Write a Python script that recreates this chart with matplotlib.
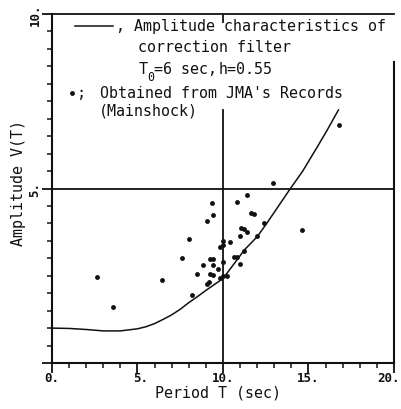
import matplotlib
matplotlib.use("Agg")
import matplotlib.pyplot as plt
from matplotlib.lines import Line2D
from matplotlib.transforms import ScaledTranslation
from matplotlib.ticker import MultipleLocator, FixedLocator, FixedFormatter

plt.rcParams['font.family'] = ['DejaVu Sans Mono', 'DejaVu Sans']

# ---- data ----
curve_T = [0, 1, 2, 3, 4, 5, 5.5, 6, 6.5, 7, 7.5, 8, 8.5, 9, 9.5, 10, 10.75, 11.25, 12, 12.5, 13,
           13.9, 14.65, 15.5, 16.1, 16.75]
curve_V = [1.00, 0.99, 0.96, 0.92, 0.92, 0.98, 1.04, 1.13, 1.25, 1.38, 1.54, 1.73, 1.90, 2.08, 2.25,
           2.42, 2.91, 3.24, 3.62, 3.96, 4.32, 4.97, 5.49, 6.18, 6.68, 7.25]

obs_T = [2.61, 3.59, 6.43, 7.62, 8.01, 8.20, 8.50, 8.81, 9.04, 9.34, 9.43, 9.24, 9.42, 9.42, 9.26,
         9.40, 9.04, 9.20, 9.71, 9.82, 9.98, 9.98, 9.98, 9.84, 10.02, 10.22, 10.42, 10.63, 10.81, 10.81,
         11.00, 11.00, 11.03, 11.22, 11.40, 11.23, 11.40, 11.62, 11.82, 12.00, 12.42, 12.94, 14.62, 16.78]
obs_V = [2.46, 1.60, 2.38, 3.02, 3.55, 1.96, 2.54, 2.81, 4.07, 4.58, 4.23, 2.97, 2.97, 2.80, 2.56,
         2.51, 2.27, 2.33, 2.70, 3.31, 3.38, 3.51, 2.89, 2.44, 2.48, 2.49, 3.46, 3.04, 3.04, 4.60,
         3.63, 2.84, 3.86, 3.85, 3.75, 3.22, 4.82, 4.30, 4.26, 3.63, 4.00, 5.15, 3.81, 6.83]

x_ticks = [0, 5, 10, 15, 20]
x_ticklabels = ["0.", "5.", "10.", "15.", "20."]
y_ticks = [0, 5, 10]
y_ticklabels = ["", "5.", "10."]

W, H = 402, 410
fig = plt.figure(figsize=(W / 100, H / 100), dpi=100)
ax = fig.add_axes([52 / W, 1 - 364 / H, 342 / W, 349 / H])

def px(x, y):
    return x / W, 1 - y / H

ink = "#111111"
ax.plot(curve_T, curve_V, color=ink, lw=1.1)
ax.plot(obs_T, obs_V, 'o', color=ink, ms=3.5, mec='none')

ax.set_xlim(0, 20)
ax.set_ylim(0, 10)

# reference lines
ax.axhline(5, color=ink, lw=1.3)
ax.axvline(10, ymin=0, ymax=0.725, color=ink, lw=1.3)
ax.axvline(10, ymin=0.977, ymax=1, color=ink, lw=1.3)

for s in ax.spines.values():
    s.set_linewidth(1.5)
    s.set_color(ink)
ax.spines['top'].set_linewidth(1.3)
ax.spines['right'].set_bounds(0, 8.62)

ax.xaxis.set_major_locator(FixedLocator(x_ticks))
ax.xaxis.set_major_formatter(FixedFormatter(x_ticklabels))
ax.xaxis.set_minor_locator(MultipleLocator(1))
ax.yaxis.set_major_locator(FixedLocator(y_ticks))
ax.yaxis.set_major_formatter(FixedFormatter(y_ticklabels))
ax.yaxis.set_minor_locator(MultipleLocator(0.5))

ax.tick_params(axis='both', which='major', direction='out', length=7, width=1.3,
               colors=ink, labelsize=9)
ax.tick_params(axis='x', which='major', pad=-1.5)
ax.tick_params(axis='y', which='major', pad=0.5)
ax.tick_params(axis='both', which='minor', direction='out', length=3.5, width=1.1, colors=ink)

x_shift_px = {"5.": 3, "20.": -5}
for lab in ax.get_xticklabels():
    lab.set_fontweight('bold')
    dx = x_shift_px.get(lab.get_text(), 0)
    if dx:
        lab.set_transform(lab.get_transform() + ScaledTranslation(dx / 100, 0, fig.dpi_scale_trans))
for lab in ax.get_yticklabels():
    lab.set_fontweight('bold')
    lab.set_rotation(90)
    lab.set_va('center')

ax.set_xlabel("Period T (sec)", fontsize=10.8, color=ink, va='center')
ax.xaxis.set_label_coords((218 - 52) / 342, (364 - 393) / 349)
ax.set_ylabel("Amplitude V(T)", fontsize=10.8, color=ink, va='center')
ax.yaxis.set_label_coords((19 - 52) / 342, (364 - 183) / 349)

# ---- legend text block ----
fs = 10.8
fig.add_artist(Line2D([75 / W, 113 / W], [1 - 27 / H, 1 - 27 / H], color=ink, lw=1.1,
                      transform=fig.transFigure))
fig.text(*px(116, 27), ", Amplitude characteristics of", fontsize=fs, va='center', ha='left', color=ink)
fig.text(*px(138, 48), "correction filter", fontsize=fs, va='center', ha='left', color=ink)
fig.text(*px(139, 70), "T", fontsize=fs, va='center', ha='left', color=ink)
fig.text(*px(147.5, 78), "0", fontsize=8.5, va='center', ha='left', color=ink)
fig.text(*px(154, 70), "=6 sec,", fontsize=fs, va='center', ha='left', color=ink)
fig.text(*px(219, 70), "h=0.55", fontsize=fs, va='center', ha='left', color=ink)
fig.add_artist(Line2D([72 / W], [1 - 94 / H], marker='o', ms=3.5, color=ink, mec='none',
                      transform=fig.transFigure))
fig.text(*px(77, 94), ";", fontsize=fs, va='center', ha='left', color=ink)
fig.text(*px(100, 94), "Obtained from JMA's Records", fontsize=fs, va='center', ha='left', color=ink)
fig.text(*px(99, 111), "(Mainshock)", fontsize=fs, va='center', ha='left', color=ink)

fig.savefig("out.png", dpi=100)
